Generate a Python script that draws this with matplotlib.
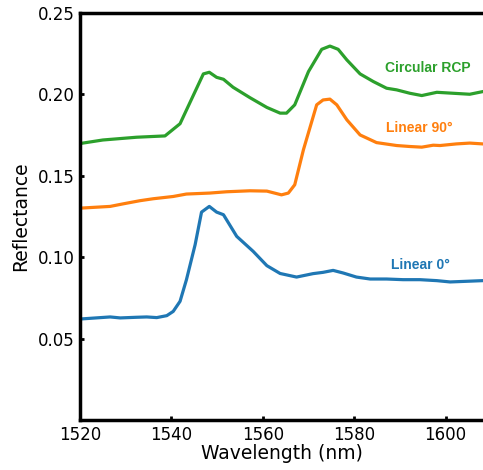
import matplotlib.pyplot as plt

# wavelength samples (nm) and reflectance
wl_rcp = [1520.4, 1525.0, 1532.4, 1538.6, 1541.9, 1547.0, 1548.3, 1549.9, 1551.4, 1553.5,
          1557.2, 1560.9, 1563.8, 1565.2, 1567.0, 1570.0, 1572.9, 1574.7, 1576.5, 1578.4,
          1581.3, 1584.2, 1587.1, 1589.3, 1592.2, 1594.8, 1598.1, 1601.7, 1605.3, 1608.1]
r_rcp = [0.170, 0.172, 0.1737, 0.1745, 0.182, 0.2126, 0.2136, 0.2105, 0.2093, 0.2044,
         0.198, 0.192, 0.1885, 0.1885, 0.1936, 0.214, 0.2277, 0.2297, 0.2277, 0.2212,
         0.2126, 0.2079, 0.2038, 0.2028, 0.2007, 0.1993, 0.2013, 0.2007, 0.2001, 0.2017]

wl_90 = [1520.4, 1526.6, 1529.5, 1533.1, 1536.0, 1540.4, 1543.3, 1548.4, 1552.1, 1557.2,
         1560.9, 1564.1, 1565.6, 1567.0, 1568.9, 1571.8, 1573.2, 1574.7, 1576.2, 1578.4,
         1581.3, 1584.9, 1589.3, 1592.2, 1594.8, 1597.3, 1598.8, 1602.4, 1605.3, 1608.1]
r_90 = [0.1302, 0.1312, 0.1328, 0.1347, 0.1359, 0.1373, 0.1388, 0.1394, 0.1402, 0.1408,
        0.1406, 0.1383, 0.1394, 0.1445, 0.1660, 0.1936, 0.1966, 0.1971, 0.1936, 0.1844,
        0.1751, 0.1704, 0.1686, 0.1680, 0.1676, 0.1688, 0.1686, 0.1696, 0.1701, 0.1696]

wl_0 = [1520.4, 1526.6, 1528.8, 1532.4, 1534.6, 1536.8, 1539.0, 1540.4, 1541.9, 1543.3,
        1545.2, 1546.6, 1548.3, 1549.9, 1551.4, 1554.3, 1557.9, 1560.9, 1563.8, 1567.4,
        1571.0, 1573.2, 1575.4, 1577.6, 1580.5, 1583.5, 1587.1, 1590.7, 1594.4, 1598.1,
        1601.0, 1604.6, 1608.1]
r_0 = [0.0621, 0.0633, 0.0627, 0.0631, 0.0633, 0.0629, 0.0641, 0.0667, 0.0729, 0.0862,
       0.1077, 0.1277, 0.1312, 0.1277, 0.1261, 0.1128, 0.1036, 0.0948, 0.0900, 0.0878,
       0.0899, 0.0907, 0.0919, 0.0903, 0.0878, 0.0866, 0.0866, 0.0862, 0.0862, 0.0856,
       0.0848, 0.0852, 0.0856]

labels = ['Circular RCP', 'Linear 90°', 'Linear 0°']
label_pos = [(1596.2, 0.2163), (1594.3, 0.1794), (1594.6, 0.0954)]
colors = ['#2ca02c', '#ff7f0e', '#1f77b4']

xticks = [1520, 1540, 1560, 1580, 1600]
yticks = [0.05, 0.10, 0.15, 0.20, 0.25]

fig = plt.figure(figsize=(4.83, 4.70), dpi=100)
ax = fig.add_axes([0.1656, 0.1064, 0.8344, 0.8659])

for wl, r, c in zip([wl_rcp, wl_90, wl_0], [r_rcp, r_90, r_0], colors):
    ax.plot(wl, r, color=c, lw=2.3)

for lab, (x, y), c in zip(labels, label_pos, colors):
    ax.text(x, y, lab, color=c, fontsize=10, fontweight='bold',
            family='Liberation Sans', ha='center', va='center')

ax.set_xlim(1520, 1608.2)
ax.set_ylim(0, 0.25)
ax.set_xticks(xticks)
ax.set_yticks(yticks)
ax.set_yticklabels([f'{v:.2f}' for v in yticks])
ax.tick_params(direction='in', length=3, width=2, labelsize=12, pad=4)
for s in ['left', 'top', 'bottom']:
    ax.spines[s].set_linewidth(2.5)
ax.spines['right'].set_visible(False)
ax.set_xlabel('Wavelength (nm)', fontsize=13.5, labelpad=0)
ax.set_ylabel('Reflectance', fontsize=13.5, labelpad=5)

fig.savefig('out.png', dpi=100)
